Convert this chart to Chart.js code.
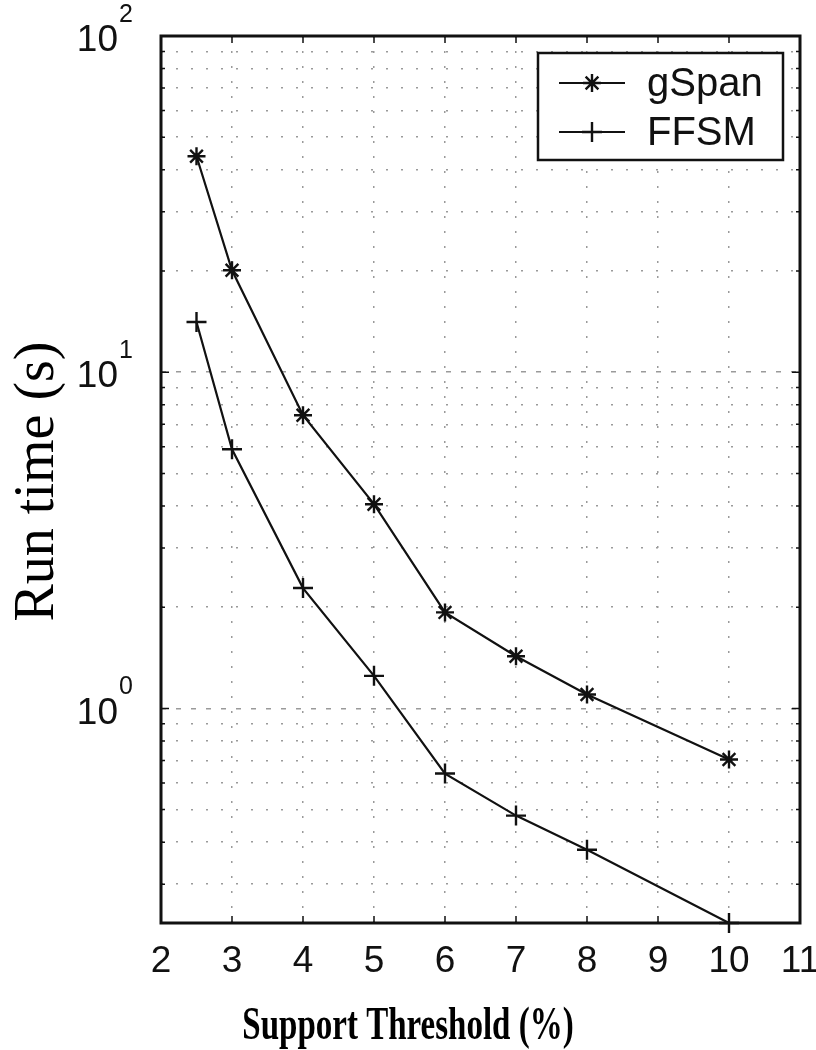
<!DOCTYPE html>
<html>
<head>
<meta charset="utf-8">
<title>Run time vs support threshold</title>
<script src="https://cdn.jsdelivr.net/npm/chart.js@4.4.1/dist/chart.umd.min.js"></script>
<style>
  html, body { margin: 0; padding: 0; background: #fff; }
</style>
</head>
<body>
<canvas id="runtimeChart" width="816" height="1050"></canvas>
<script>
// values (support threshold in %, run time in seconds)
const thresholds = [2.5, 3, 4, 5, 6, 7, 8, 10];
const gspanTimes = [43.9, 20.1, 7.45, 4.05, 1.93, 1.43, 1.10, 0.705];
const ffsmTimes = [14.1, 5.9, 2.28, 1.25, 0.64, 0.48, 0.38, 0.23];

const seriesNames = ['gSpan', 'FFSM'];
const xTicks = [2, 3, 4, 5, 6, 7, 8, 9, 10, 11];
const yGridValues = [0.3, 0.4, 0.5, 0.6, 0.7, 0.8, 0.9,
  1, 2, 3, 4, 5, 6, 7, 8, 9,
  10, 20, 30, 40, 50, 60, 70, 80, 90, 100];
const yDecades = [1, 10, 100];
const yDecadeExp = ['0', '1', '2'];

const xTitle = 'Support Threshold (%)';
const yTitle = 'Run time (s)';

const SANS = '"Liberation Sans", Arial, Helvetica, sans-serif';
const SERIF = '"Liberation Serif", "Times New Roman", Times, serif';
const INK = '#111';

// frame, inward tick marks, tick labels, legend and axis titles
const decorPlugin = {
  id: 'decor',
  afterDraw(chart) {
    const { ctx, chartArea: a, scales } = chart;
    const xs = scales.x, ys = scales.y;
    ctx.save();

    // inward tick marks
    ctx.strokeStyle = INK;
    ctx.lineWidth = 1.5;
    ctx.beginPath();
    xTicks.forEach(v => {
      const px = xs.getPixelForValue(v);
      ctx.moveTo(px, a.bottom); ctx.lineTo(px, a.bottom - 7);
      ctx.moveTo(px, a.top); ctx.lineTo(px, a.top + 7);
    });
    yGridValues.forEach(v => {
      const py = ys.getPixelForValue(v);
      const len = yDecades.includes(v) ? 8 : 4;
      ctx.moveTo(a.left, py); ctx.lineTo(a.left + len, py);
      ctx.moveTo(a.right, py); ctx.lineTo(a.right - len, py);
    });
    ctx.stroke();

    // frame
    ctx.lineWidth = 3;
    ctx.strokeRect(a.left, a.top, a.right - a.left, a.bottom - a.top);

    // x tick labels
    ctx.fillStyle = '#111';
    ctx.font = '37px ' + SANS;
    ctx.textAlign = 'center';
    ctx.textBaseline = 'middle';
    xTicks.forEach(v => {
      ctx.fillText(String(v), xs.getPixelForValue(v), a.bottom + 39);
    });

    // y tick labels: 10 with a raised exponent
    yDecades.forEach((v, i) => {
      const py = ys.getPixelForValue(v);
      ctx.font = '37px ' + SANS;
      ctx.textAlign = 'right';
      ctx.textBaseline = 'middle';
      ctx.fillText('10', 118, py + 5);
      ctx.font = '25px ' + SANS;
      ctx.textAlign = 'left';
      ctx.fillText(yDecadeExp[i], 119, py - 21);
    });

    // legend
    const lx = 538, ly = 53, lw = 245, lh = 107;
    ctx.fillStyle = '#fff';
    ctx.fillRect(lx, ly, lw, lh);
    ctx.strokeStyle = INK;
    ctx.lineWidth = 2.5;
    ctx.strokeRect(lx, ly, lw, lh);
    const rows = [83, 132];
    chart.data.datasets.forEach((ds, i) => {
      const y = rows[i];
      ctx.strokeStyle = ds.borderColor;
      ctx.lineWidth = ds.borderWidth;
      ctx.beginPath();
      ctx.moveTo(559, y); ctx.lineTo(625, y);
      ctx.stroke();
      ctx.lineWidth = ds.pointBorderWidth;
      Chart.helpers.drawPoint(ctx, {
        pointStyle: ds.pointStyle, radius: ds.pointRadius,
        borderWidth: ds.pointBorderWidth, rotation: 0
      }, 592, y);
      ctx.fillStyle = '#111';
      ctx.font = '40px ' + SANS;
      ctx.textAlign = 'left';
      ctx.textBaseline = 'middle';
      ctx.fillText(ds.label, 647, y + 2);
    });

    // y title, rotated
    ctx.save();
    ctx.translate(53, (a.top + a.bottom) / 2 + 2);
    ctx.rotate(-Math.PI / 2);
    ctx.fillStyle = '#000';
    ctx.font = '56px ' + SERIF;
    ctx.textAlign = 'center';
    ctx.textBaseline = 'alphabetic';
    ctx.fillText(yTitle, 0, 0);
    ctx.restore();

    // x title, bold serif, drawn tall like the original
    ctx.save();
    ctx.translate(408, 1039);
    ctx.scale(1, 1.4);
    ctx.fillStyle = '#000';
    ctx.font = 'bold 33px ' + SERIF;
    ctx.textAlign = 'center';
    ctx.textBaseline = 'alphabetic';
    ctx.fillText(xTitle, 0, 0);
    ctx.restore();

    ctx.restore();
  }
};

const gridDash = [2, 13];

new Chart(document.getElementById('runtimeChart'), {
  type: 'line',
  data: {
    datasets: [
      {
        label: seriesNames[0],
        data: thresholds.map((t, i) => ({ x: t, y: gspanTimes[i] })),
        borderColor: INK,
        borderWidth: 2.2,
        pointStyle: 'star',
        pointRadius: 9,
        pointBorderWidth: 2.4,
        pointBorderColor: INK,
        pointBackgroundColor: INK,
        tension: 0,
        clip: false
      },
      {
        label: seriesNames[1],
        data: thresholds.map((t, i) => ({ x: t, y: ffsmTimes[i] })),
        borderColor: INK,
        borderWidth: 2.2,
        pointStyle: 'cross',
        pointRadius: 10,
        pointBorderWidth: 2.4,
        pointBorderColor: INK,
        pointBackgroundColor: INK,
        tension: 0,
        clip: false
      }
    ]
  },
  options: {
    responsive: false,
    animation: false,
    layout: { padding: { left: 161, right: 16, top: 36, bottom: 127 } },
    plugins: {
      legend: { display: false },
      tooltip: { enabled: false }
    },
    scales: {
      x: {
        type: 'linear',
        min: 2,
        max: 11,
        afterBuildTicks: axis => { axis.ticks = xTicks.map(v => ({ value: v })); },
        ticks: { display: false },
        border: { display: false, dash: gridDash },
        grid: { color: '#9a9a9a', lineWidth: 1.5, drawTicks: false }
      },
      y: {
        type: 'logarithmic',
        min: 0.23,
        max: 100,
        afterBuildTicks: axis => { axis.ticks = yGridValues.map(v => ({ value: v })); },
        ticks: { display: false },
        border: {
          display: false,
          dash: ctx => (ctx.tick && yDecades.includes(ctx.tick.value)) ? [5, 10] : gridDash
        },
        grid: { color: '#9a9a9a', lineWidth: 1.5, drawTicks: false }
      }
    }
  },
  plugins: [decorPlugin]
});
</script>
</body>
</html>
